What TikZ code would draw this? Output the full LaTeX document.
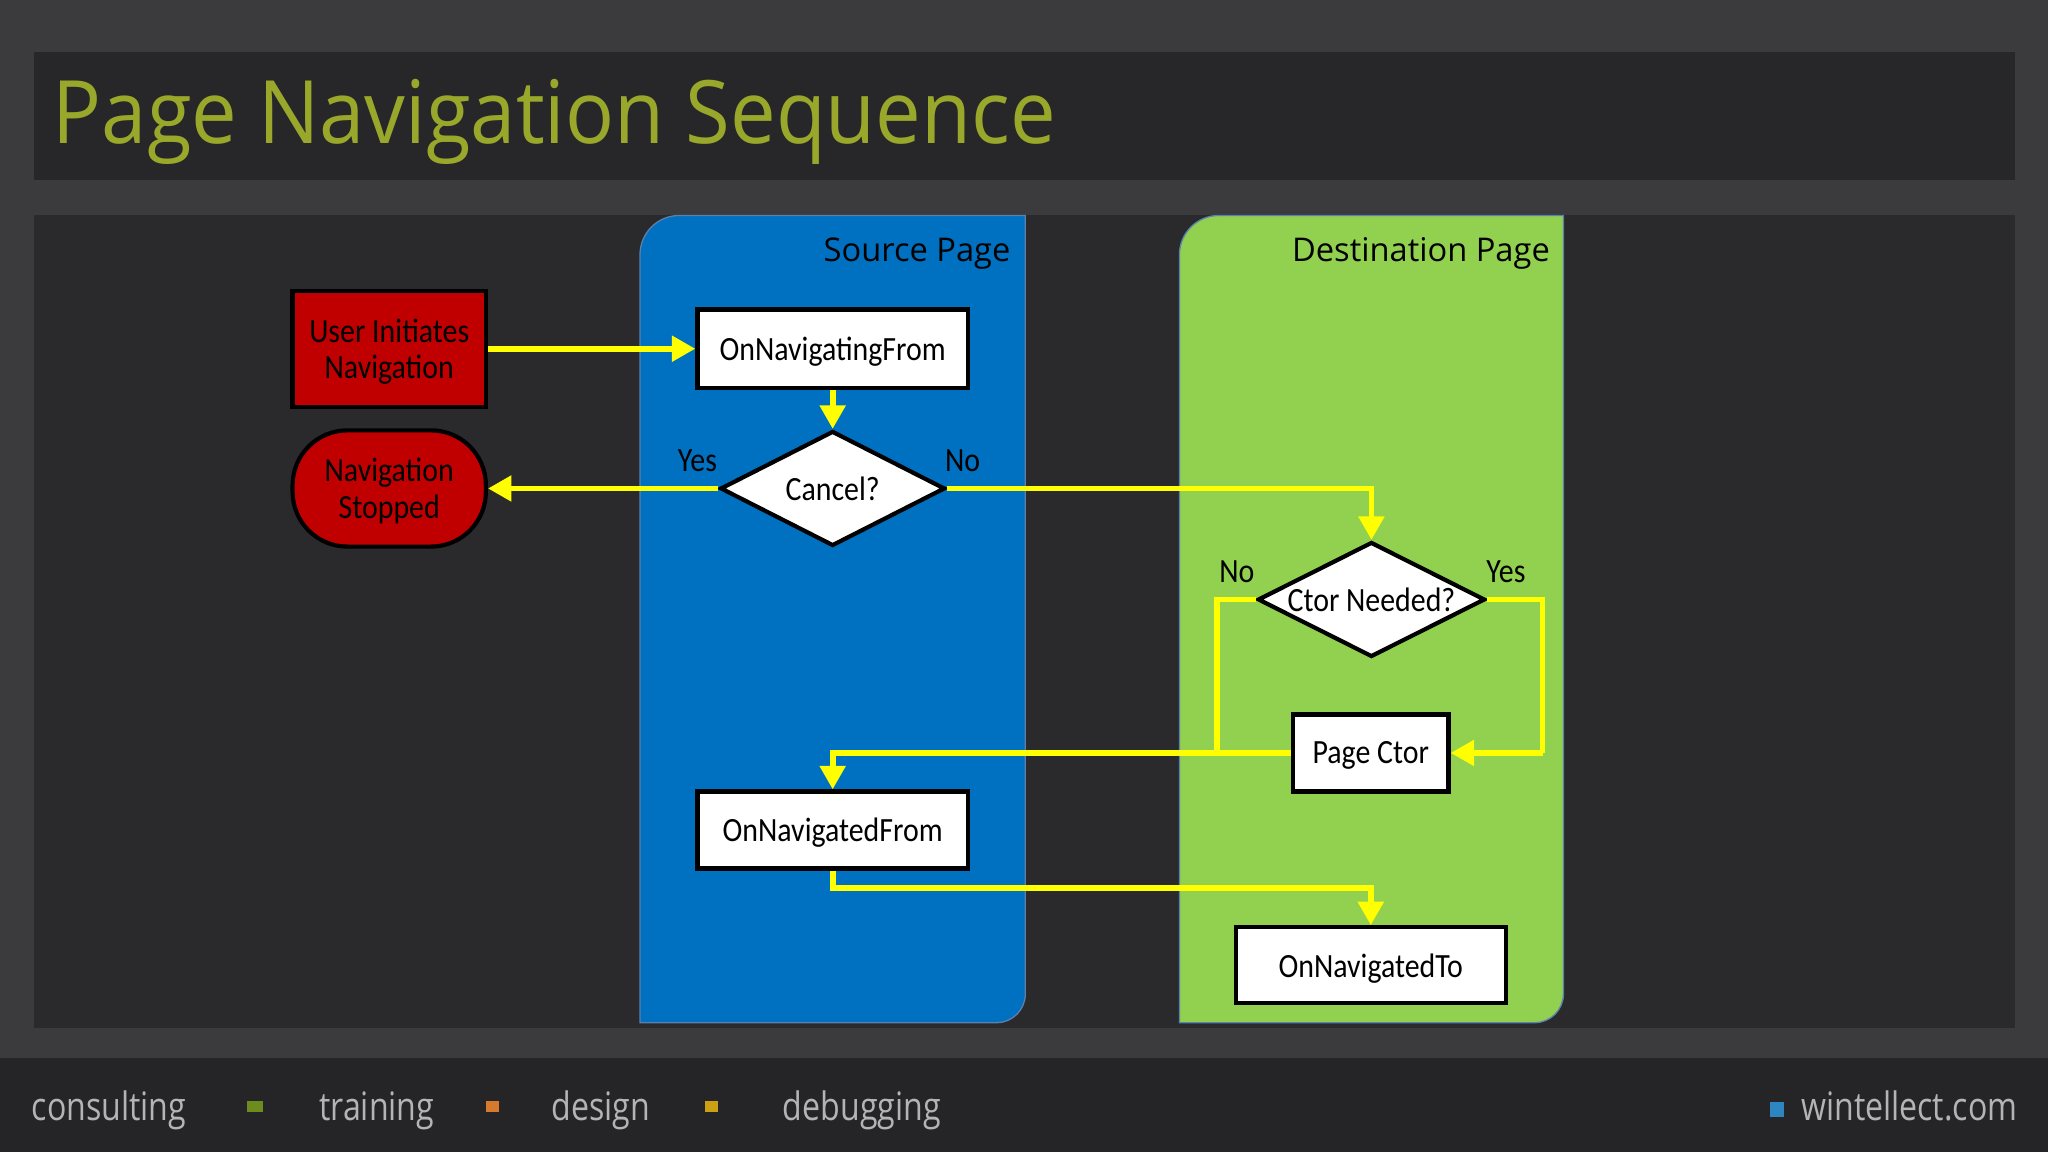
\documentclass[tikz,border=0pt]{standalone}
\usepackage{fontspec}
\setmainfont{Carlito}[FakeStretch=0.88]
\newfontfamily\segoe{Open Sans}
\newfontfamily\titlefont{Open Sans}[FakeStretch=0.93]
\newfontfamily\footfont{Open Sans}[FakeStretch=0.82]
\usetikzlibrary{shapes.geometric,arrows.meta}
\definecolor{texbg}{HTML}{3B3B3D}
\definecolor{barbg}{HTML}{272729}
\definecolor{panelbg}{HTML}{2A2A2C}
\definecolor{footbg}{HTML}{252527}
\definecolor{titlegreen}{HTML}{99A82B}
\definecolor{laneblue}{HTML}{0070C0}
\definecolor{lanegreen}{HTML}{92D050}
\definecolor{laneedge}{HTML}{5A80AE}
\definecolor{boxred}{HTML}{C00000}
\definecolor{flowyellow}{HTML}{FFFF00}
\definecolor{footgrey}{HTML}{B4B4B6}
\definecolor{sqgreen}{HTML}{6E8C1E}
\definecolor{sqorange}{HTML}{D67A2E}
\definecolor{sqgold}{HTML}{CCA014}
\definecolor{sqblue}{HTML}{2E86C1}
\begin{document}
\begin{tikzpicture}[x=0.5pt,y=0.5pt,
  boxtext/.style={font=\fontsize{13}{14}\selectfont, text=black},
  whitebox/.style={boxtext, draw=black, line width=1.6pt, fill=white, inner sep=0pt, align=center, text depth=0pt},
  redbox/.style={boxtext, draw=black, line width=1.6pt, fill=boxred, inner sep=0pt, align=center, text depth=0pt},
  decision/.style={boxtext, diamond, draw=black, line width=1.6pt, fill=white, inner sep=0pt, text depth=0pt},
  branch/.style={boxtext, inner sep=0pt},
  lanelabel/.style={font=\segoe\fontsize{12.5}{15}\selectfont, text=black, anchor=base east, inner sep=0pt},
  footlabel/.style={font=\footfont\fontsize{15}{18}\selectfont, text=footgrey, inner sep=0pt},
  flow/.style={draw=flowyellow, line width=2.2pt, -{Triangle[length=9pt,width=9.5pt]}},
  flowline/.style={draw=flowyellow, line width=2.2pt}
]
% backgrounds
\fill[texbg] (0,0) rectangle (1568,882);
\useasboundingbox (0,0) rectangle (1568,882);
\fill[barbg] (26,744) rectangle (1543,842);
\fill[panelbg] (26,95) rectangle (1543,717);
\fill[footbg] (0,0) rectangle (1568,72);

% title
\node[anchor=base west, inner sep=0pt, text=titlegreen,
      font=\titlefont\fontsize{33.5}{40}\selectfont] (title) at (40,772) {Page Navigation Sequence};

% swim lanes
\path[fill=laneblue, draw=laneedge, line width=0.5pt]
  (490,99) -- (490,687) arc[start angle=180,end angle=90,radius=30]
  -- (785,717) -- (785,121) arc[start angle=0,end angle=-90,radius=22] -- cycle;
\path[fill=lanegreen, draw=laneedge, line width=0.5pt]
  (903,99) -- (903,687) arc[start angle=180,end angle=90,radius=30]
  -- (1197,717) -- (1197,121) arc[start angle=0,end angle=-90,radius=22] -- cycle;
\node[lanelabel] (srclabel) at (774,682) {Source Page};
\node[lanelabel] (dstlabel) at (1187,682) {Destination Page};

% nodes
\node[redbox, minimum width=74pt, minimum height=44.5pt] (user) at (298,615) {User Initiates\\Navigation};
\node[redbox, rounded corners=21pt, minimum width=74pt, minimum height=44.5pt] (stop) at (298,508) {Navigation\\Stopped};
\node[whitebox, minimum width=103.5pt, minimum height=30pt] (navfrom) at (637.5,615) {OnNavigatingFrom};
\node[decision, minimum width=86pt, minimum height=44pt] (cancel) at (637.5,508) {\makebox[0pt]{Cancel?}};
\node[decision, minimum width=87pt, minimum height=44pt] (ctor) at (1050,423) {\makebox[0pt]{Ctor Needed?}};
\node[whitebox, minimum width=59.5pt, minimum height=29.5pt] (pagector) at (1049.5,305.5) {Page Ctor};
\node[whitebox, minimum width=103.5pt, minimum height=29.5pt] (navedfrom) at (637.5,246.5) {OnNavigatedFrom};
\node[whitebox, minimum width=103.5pt, minimum height=29pt] (navto) at (1049.5,143) {OnNavigatedTo};

% branch labels
\node[branch] (yes1) at (534,529) {Yes};
\node[branch] (no1) at (737,529) {No};
\node[branch] (no2) at (947,444) {No};
\node[branch] (yes2) at (1153,444) {Yes};

% connector helper points
\coordinate (join) at (932,305.5);
\coordinate (rightturn) at (1181,305.5);
\coordinate (lowturn) at (1049.5,202);

% connectors
\draw[flow] (user.east) -- (navfrom.west);
\draw[flow] (navfrom.south) -- (cancel.north);
\draw[flow] (cancel.west) -- (stop.east);
\draw[flow] (cancel.east) -| (ctor.north);
\draw[flowline] (ctor.west) -| (join);
\draw[flow] (pagector.west) -| (navedfrom.north);
\draw[flowline] (ctor.east) -| (rightturn);
\draw[flow] (rightturn) -- (pagector.east);
\draw[flow] (navedfrom.south) |- (lowturn) -- (navto.north);

% footer
\node[footlabel, anchor=base west] (f1) at (24,24) {consulting};
\node[footlabel, anchor=base west] (f2) at (244,24) {training};
\node[footlabel, anchor=base west] (f3) at (422,24) {design};
\node[footlabel, anchor=base west] (f4) at (599,24) {debugging};
\node[footlabel, anchor=base east] (f5) at (1545,24) {wintellect.com};
\fill[sqgreen] (189,31) rectangle (201,39);
\fill[sqorange] (372,31) rectangle (382,39);
\fill[sqgold] (540,31) rectangle (550,39);
\fill[sqblue] (1355,27) rectangle (1366,38);
\end{tikzpicture}
\end{document}
